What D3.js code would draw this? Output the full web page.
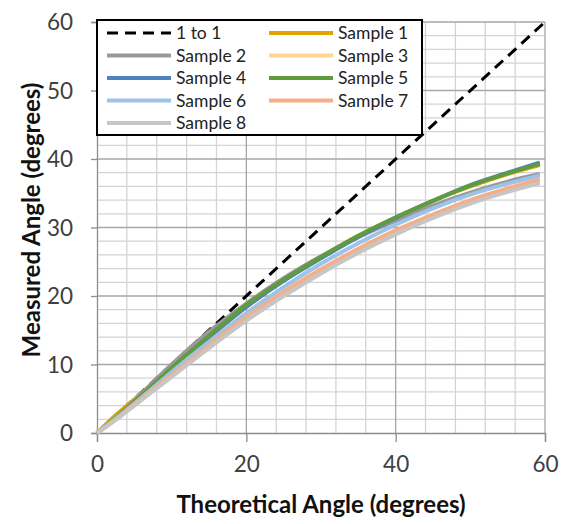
<!DOCTYPE html>
<html>
<head>
<meta charset="utf-8">
<script src="https://cdn.jsdelivr.net/npm/d3@7"></script>
<style>
  body { margin: 0; background: #fff; }
  svg { font-family: Lato, "Open Sans", sans-serif; }
</style>
</head>
<body>
<svg id="chart" width="561" height="524"></svg>
<script>
// theoretical angle (x) used by every sample
var xVals = [0, 2.5, 5, 7.5, 10, 15, 20, 25, 30, 35, 40, 45, 50, 55, 59.3];

var sample1 = [0, 2.6, 4.9, 7.3, 9.5, 14.0, 18.4, 22.3, 25.7, 28.8, 31.4, 33.9, 36.0, 37.8, 39.1];
var sample2 = [0, 2.2, 4.7, 7.4, 10.0, 14.8, 18.9, 22.6, 25.8, 28.6, 31.0, 33.2, 35.1, 36.7, 37.8];
var sample3 = [0, 2.0, 4.1, 6.3, 8.5, 12.7, 16.8, 20.5, 23.8, 26.8, 29.5, 31.8, 33.9, 35.6, 36.9];
var sample4 = [0, 2.2, 4.5, 6.9, 9.3, 14.0, 18.4, 22.2, 25.5, 28.6, 31.4, 33.9, 36.2, 38.0, 39.5];
var sample5 = [0, 2.2, 4.5, 7.0, 9.5, 14.2, 18.7, 22.4, 25.7, 28.8, 31.5, 33.9, 36.1, 37.9, 39.3];
var sample6 = [0, 2.1, 4.3, 6.6, 8.9, 13.3, 17.5, 21.3, 24.7, 27.7, 30.4, 32.8, 34.8, 36.4, 37.6];
var sample7 = [0, 2.0, 4.2, 6.3, 8.5, 12.8, 16.9, 20.6, 23.9, 26.9, 29.6, 31.9, 34.0, 35.7, 37.0];
var sample8 = [0, 1.9, 4.0, 6.1, 8.2, 12.4, 16.4, 20.0, 23.3, 26.3, 29.0, 31.4, 33.5, 35.2, 36.5];

var oneToOneX = [0, 60];
var oneToOneY = [0, 60];

var seriesNames = ["1 to 1", "Sample 1", "Sample 2", "Sample 3", "Sample 4",
                   "Sample 5", "Sample 6", "Sample 7", "Sample 8"];
var seriesColors = ["#000000", "#E0A300", "#999999", "#FFD48E", "#4F83BF",
                    "#5F9C3F", "#9DC3E6", "#F4AE8A", "#C6C6C6"];

var xTicks = [0, 20, 40, 60];
var yTicks = [0, 10, 20, 30, 40, 50, 60];

var margin = {top: 22, right: 16, bottom: 91, left: 97};
var width = 561 - margin.left - margin.right;
var height = 524 - margin.top - margin.bottom;

var svg = d3.select("#chart");
var g = svg.append("g").attr("transform", "translate(" + margin.left + "," + margin.top + ")");

var x = d3.scaleLinear().domain([0, 60]).range([0, width]);
var y = d3.scaleLinear().domain([0, 60]).range([height, 0]);

// minor grid
g.selectAll(".vminor").data(d3.range(4, 60, 4).filter(function(d) { return d % 20 != 0; }))
  .enter().append("line")
  .attr("x1", function(d) { return x(d); }).attr("x2", function(d) { return x(d); })
  .attr("y1", 0).attr("y2", height)
  .attr("stroke", "#d4d4d4").attr("stroke-width", 1.3);
g.selectAll(".hminor").data(d3.range(2, 60, 2).filter(function(d) { return d % 10 != 0; }))
  .enter().append("line")
  .attr("y1", function(d) { return y(d); }).attr("y2", function(d) { return y(d); })
  .attr("x1", 0).attr("x2", width)
  .attr("stroke", "#d4d4d4").attr("stroke-width", 1.3);
// major grid
g.selectAll(".vmajor").data(xTicks.slice(1))
  .enter().append("line")
  .attr("x1", function(d) { return x(d); }).attr("x2", function(d) { return x(d); })
  .attr("y1", 0).attr("y2", height)
  .attr("stroke", "#a6a6a6").attr("stroke-width", 1.3);
g.selectAll(".hmajor").data(yTicks.slice(1))
  .enter().append("line")
  .attr("y1", function(d) { return y(d); }).attr("y2", function(d) { return y(d); })
  .attr("x1", 0).attr("x2", width)
  .attr("stroke", "#a6a6a6").attr("stroke-width", 1.3);

// axes
var xAxis = d3.axisBottom(x).tickValues(xTicks).tickSize(9).tickPadding(18);
var yAxis = d3.axisLeft(y).tickValues(yTicks).tickSize(6).tickPadding(18);

var gx = g.append("g").attr("transform", "translate(0," + height + ")").call(xAxis);
var gy = g.append("g").call(yAxis);
[gx, gy].forEach(function(a) {
  a.select(".domain").attr("stroke", "#8c8c8c").attr("stroke-width", 1.3);
  a.selectAll(".tick line").attr("stroke", "#8c8c8c").attr("stroke-width", 1.3);
  a.selectAll(".tick text").attr("fill", "#404040").style("font-size", "22.5px")
    .style("font-family", "Lato, sans-serif");
});
gy.selectAll(".tick text").attr("dy", "0.35em");
gx.selectAll(".tick text").attr("dy", "0.55em");

// series lines
var line = d3.line()
  .x(function(d) { return x(d[0]); })
  .y(function(d) { return y(d[1]); })
  .curve(d3.curveMonotoneX);

var plot = g.append("g");
plot.append("path")
  .datum(d3.zip(oneToOneX, oneToOneY))
  .attr("d", line)
  .attr("fill", "none")
  .attr("stroke", seriesColors[0])
  .attr("stroke-width", 3)
  .attr("stroke-dasharray", "11,7");

var samples = [sample1, sample2, sample3, sample4, sample5, sample6, sample7, sample8];
samples.forEach(function(s, i) {
  plot.append("path")
    .datum(d3.zip(xVals, s))
    .attr("d", line)
    .attr("fill", "none")
    .attr("stroke", seriesColors[i + 1])
    .attr("stroke-width", 4)
    .attr("stroke-linejoin", "round");
});

// legend
var legend = svg.append("g").attr("transform", "translate(97,20)");
legend.append("rect")
  .attr("x", 0).attr("y", 0).attr("width", 325).attr("height", 115)
  .attr("fill", "#fff").attr("stroke", "#000").attr("stroke-width", 2);

var items = legend.selectAll(".item").data(seriesNames)
  .enter().append("g")
  .attr("transform", function(d, i) {
    return "translate(" + (i % 2 == 0 ? 10 : 172) + "," + (13 + Math.floor(i / 2) * 22.5) + ")";
  });
items.append("line")
  .attr("x1", 0).attr("x2", 64).attr("y1", 0).attr("y2", 0)
  .attr("stroke", function(d, i) { return seriesColors[i]; })
  .attr("stroke-width", function(d, i) { return i == 0 ? 3 : 4; })
  .attr("stroke-dasharray", function(d, i) { return i == 0 ? "11,7" : null; });
items.append("text")
  .attr("x", 69).attr("y", 0).attr("dy", "0.36em")
  .attr("fill", "#222")
  .style("font-size", "17.5px")
  .text(function(d) { return d; });

// axis titles
svg.append("text")
  .attr("x", margin.left + width / 2).attr("y", 513)
  .attr("text-anchor", "middle")
  .style("font-size", "24px").style("font-weight", "bold")
  .attr("fill", "#111")
  .text("Theoretical Angle (degrees)");

svg.append("text")
  .attr("transform", "translate(32," + (margin.top + 198) + ") rotate(-90)")
  .attr("text-anchor", "middle")
  .attr("dy", "0.35em")
  .style("font-size", "24px").style("font-weight", "bold")
  .attr("fill", "#111")
  .text("Measured Angle (degrees)");
</script>
</body>
</html>
